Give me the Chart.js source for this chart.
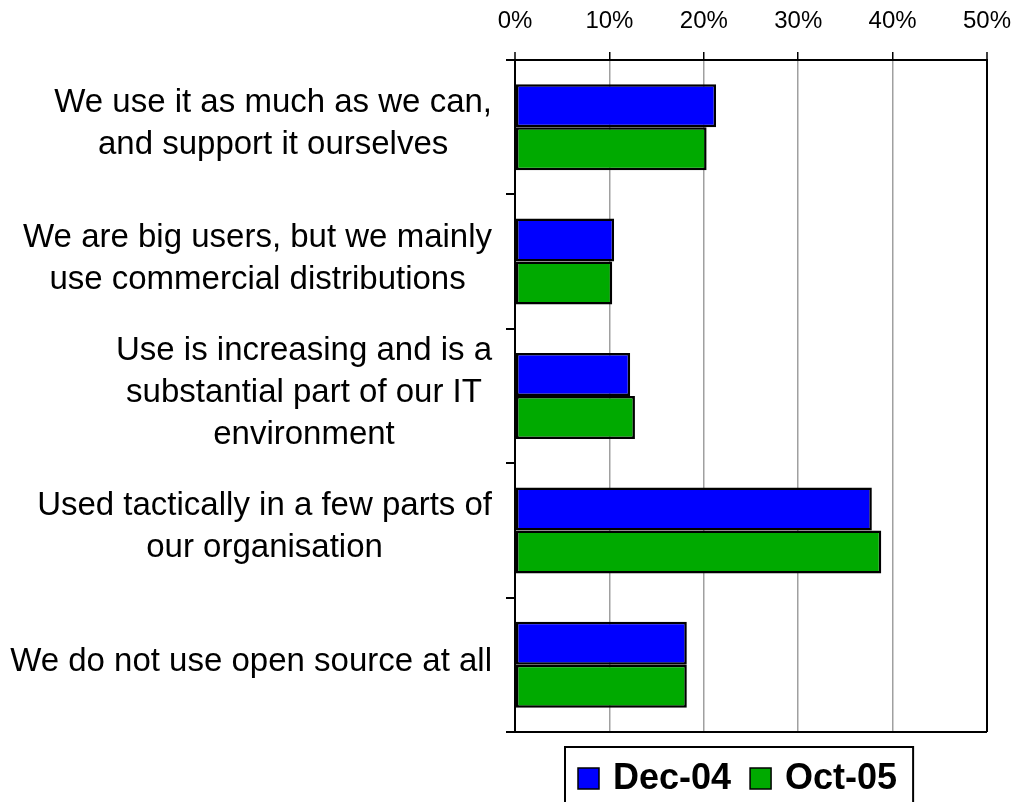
<!DOCTYPE html>
<html>
<head>
<meta charset="utf-8">
<script src="https://cdn.jsdelivr.net/npm/chart.js@4.4.0/dist/chart.umd.min.js"></script>
<style>
html, body { margin: 0; padding: 0; background: #fff; }
canvas { display: block; }
</style>
</head>
<body>
<canvas id="usageChart" width="1014" height="802"></canvas>
<script>
// values (percent of respondents)
const categories = [
    ['We use it as much as we can,', 'and support it ourselves'],
    ['We are big users, but we mainly', 'use commercial distributions'],
    ['Use is increasing and is a', 'substantial part of our IT', 'environment'],
    ['Used tactically in a few parts of', 'our organisation'],
    ['We do not use open source at all']
];
const seriesNames = ['Dec-04', 'Oct-05'];
const dec04 = [21.3, 10.5, 12.2, 37.8, 18.2];
const oct05 = [20.3, 10.3, 12.7, 38.8, 18.2];
const tickValues = [0, 10, 20, 30, 40, 50];

const FONT = '"Liberation Sans", Arial, sans-serif';

// multi-line category labels: block right-aligned to the axis, lines centred inside it
const categoryLabels = {
    id: 'categoryLabels',
    afterDraw(chart) {
        const ctx = chart.ctx;
        const yScale = chart.scales.y;
        const right = chart.chartArea.left - 23;
        const lineH = 42;
        ctx.save();
        ctx.font = '33px ' + FONT;
        ctx.fillStyle = '#000';
        ctx.textAlign = 'center';
        ctx.textBaseline = 'middle';
        categories.forEach(function (lines, i) {
            const widest = Math.max.apply(null, lines.map(l => ctx.measureText(l).width));
            const cx = right - widest / 2;
            const cy = yScale.getPixelForValue(i) - 3;
            lines.forEach(function (line, j) {
                ctx.fillText(line, cx, cy + (j - (lines.length - 1) / 2) * lineH);
            });
        });
        ctx.restore();
    }
};

// legend in a framed box under the plot
const boxedLegend = {
    id: 'boxedLegend',
    afterDraw(chart) {
        const ctx = chart.ctx;
        const area = chart.chartArea;
        const sq = 21;
        ctx.save();
        ctx.font = 'bold 36px ' + FONT;
        ctx.textBaseline = 'alphabetic';
        ctx.textAlign = 'left';
        const left = area.left + 50;
        const top = area.bottom + 15;
        const base = top + 42;
        let x = left + 13;
        const items = chart.data.datasets.map(ds => ({
            label: ds.label,
            color: ds.backgroundColor,
            w: ctx.measureText(ds.label).width
        }));
        let total = 13;
        items.forEach((it, i) => { total += sq + 14 + it.w + (i < items.length - 1 ? 19 : 16); });

        ctx.lineWidth = 2;
        ctx.strokeStyle = '#000';
        ctx.strokeRect(left, top, total, 90);

        items.forEach(function (it) {
            ctx.fillStyle = it.color;
            ctx.fillRect(x, base - sq, sq, sq);
            ctx.lineWidth = 1.5;
            ctx.strokeRect(x, base - sq, sq, sq);
            x += sq + 14;
            ctx.fillStyle = '#000';
            ctx.fillText(it.label, x, base);
            x += it.w + 19;
        });
        ctx.restore();
    }
};

const ctx = document.getElementById('usageChart').getContext('2d');
new Chart(ctx, {
    type: 'bar',
    data: {
        labels: categories.map(l => l.join(' ')),
        datasets: [{
            label: seriesNames[0],
            data: dec04,
            backgroundColor: '#0000ff',
            borderColor: '#000',
            borderWidth: 2.5,
            borderSkipped: false
        }, {
            label: seriesNames[1],
            data: oct05,
            backgroundColor: '#00aa00',
            borderColor: '#000',
            borderWidth: 2.5,
            borderSkipped: false
        }]
    },
    options: {
        indexAxis: 'y',
        responsive: false,
        animation: false,
        layout: {
            padding: { top: 0, right: 0, bottom: 70, left: 0 }
        },
        datasets: {
            bar: { categoryPercentage: 0.64, barPercentage: 1.0 }
        },
        scales: {
            x: {
                position: 'top',
                min: 0,
                max: 50,
                afterBuildTicks: function (scale) {
                    scale.ticks = tickValues.map(v => ({ value: v }));
                },
                afterFit: function (scale) {
                    scale.height = 60;
                    scale.paddingLeft = 0;
                    scale.paddingRight = 27;
                },
                border: { display: true, color: '#000', width: 2 },
                grid: {
                    color: function (c) {
                        return (c.index === 0 || c.index === tickValues.length - 1) ? '#000' : '#a0a0a0';
                    },
                    lineWidth: function (c) {
                        return (c.index === 0 || c.index === tickValues.length - 1) ? 2 : 1.5;
                    },
                    tickColor: '#000',
                    tickLength: 8,
                    tickWidth: 1.5
                },
                ticks: {
                    color: '#000',
                    padding: 16,
                    font: { family: FONT, size: 24 },
                    callback: function (value) { return value + '%'; }
                }
            },
            y: {
                afterFit: function (scale) {
                    scale.width = 515;
                },
                border: { display: true, color: '#000', width: 2 },
                grid: {
                    offset: true,
                    // the closing line after the last category comes with the scale context
                    color: function (c) {
                        return c.type !== 'tick' ? '#000' : 'rgba(0,0,0,0)';
                    },
                    lineWidth: 2,
                    tickColor: '#000',
                    tickLength: 9,
                    tickWidth: 2
                },
                ticks: { display: false }
            }
        },
        plugins: {
            legend: { display: false },
            tooltip: { enabled: false }
        }
    },
    plugins: [categoryLabels, boxedLegend]
});
</script>
</body>
</html>
